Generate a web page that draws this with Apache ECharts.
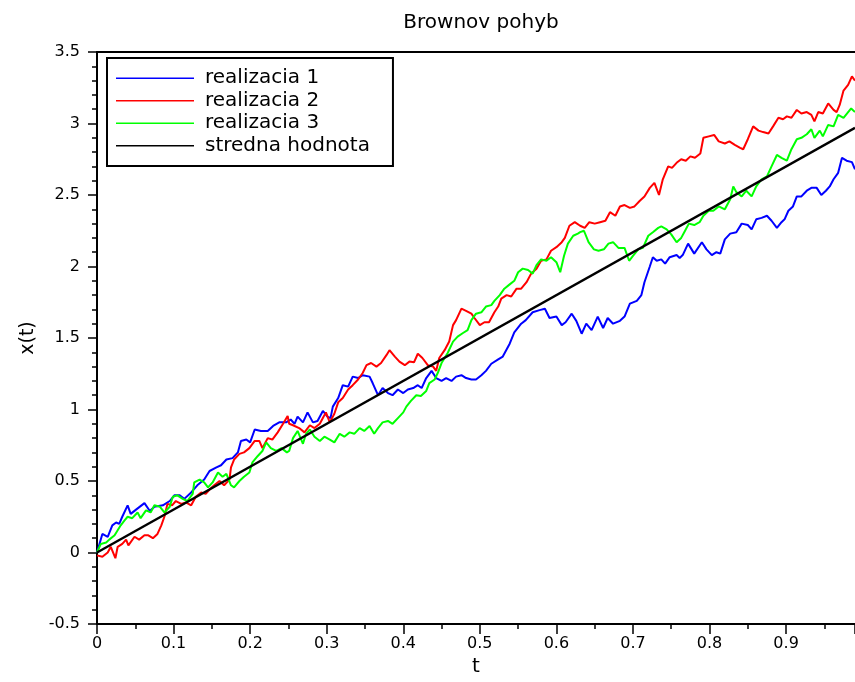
<!DOCTYPE html>
<html>
<head>
<meta charset="utf-8">
<script src="https://cdn.jsdelivr.net/npm/echarts@6/dist/echarts.min.js"></script>
<style>
html,body{margin:0;padding:0;background:#fff;}
#chart{width:855px;height:682px;}
</style>
</head>
<body>
<div id="chart"></div>
<script>
var seriesNames = ['realizacia 1', 'realizacia 2', 'realizacia 3', 'stredna hodnota'];
var titleText = 'Brownov pohyb';
var xName = 't';
var yName = 'x(t)';

var t1 = [0,0.007,0.014,0.02,0.025,0.029,0.033,0.04,0.044,0.051,0.062,0.069,0.075,0.086,0.095,0.101,0.108,0.114,0.123,0.131,0.14,0.147,0.156,0.162,0.169,0.177,0.184,0.188,0.195,0.2,0.206,0.214,0.223,0.23,0.238,0.247,0.253,0.258,0.262,0.269,0.275,0.282,0.288,0.295,0.301,0.305,0.308,0.315,0.321,0.328,0.334,0.341,0.347,0.356,0.36,0.367,0.373,0.38,0.386,0.393,0.4,0.406,0.413,0.419,0.424,0.43,0.437,0.443,0.45,0.456,0.463,0.469,0.476,0.482,0.489,0.495,0.502,0.508,0.515,0.524,0.53,0.539,0.545,0.554,0.56,0.569,0.578,0.585,0.591,0.6,0.607,0.612,0.62,0.626,0.633,0.639,0.646,0.654,0.661,0.667,0.674,0.683,0.689,0.696,0.705,0.711,0.715,0.722,0.726,0.731,0.737,0.742,0.748,0.751,0.757,0.761,0.765,0.772,0.78,0.79,0.796,0.803,0.809,0.814,0.82,0.827,0.835,0.842,0.85,0.855,0.861,0.868,0.875,0.881,0.888,0.894,0.898,0.903,0.909,0.914,0.92,0.927,0.933,0.94,0.946,0.952,0.957,0.962,0.968,0.973,0.979,0.986,0.99];
var x1 = [0,0.13,0.11,0.19,0.21,0.2,0.25,0.33,0.27,0.3,0.345,0.29,0.32,0.33,0.36,0.4,0.4,0.375,0.42,0.47,0.51,0.57,0.595,0.61,0.65,0.66,0.7,0.78,0.79,0.77,0.86,0.85,0.85,0.885,0.91,0.91,0.93,0.9,0.95,0.91,0.98,0.91,0.92,0.99,0.95,0.94,1.02,1.08,1.17,1.16,1.23,1.22,1.24,1.23,1.185,1.1,1.15,1.115,1.1,1.14,1.115,1.14,1.15,1.17,1.15,1.22,1.27,1.22,1.2,1.22,1.2,1.23,1.24,1.22,1.21,1.21,1.24,1.27,1.32,1.35,1.37,1.46,1.54,1.6,1.625,1.68,1.695,1.705,1.64,1.65,1.59,1.61,1.67,1.62,1.53,1.6,1.555,1.65,1.57,1.64,1.6,1.62,1.65,1.74,1.76,1.8,1.89,2.0,2.065,2.04,2.05,2.02,2.065,2.07,2.08,2.06,2.08,2.16,2.09,2.17,2.12,2.08,2.1,2.09,2.19,2.23,2.24,2.3,2.29,2.26,2.33,2.34,2.355,2.32,2.27,2.31,2.33,2.39,2.42,2.49,2.49,2.53,2.55,2.55,2.5,2.53,2.56,2.61,2.655,2.76,2.74,2.73,2.68];

var t2 = [0,0.007,0.014,0.018,0.024,0.027,0.033,0.038,0.041,0.049,0.055,0.062,0.067,0.073,0.079,0.084,0.088,0.092,0.098,0.103,0.11,0.116,0.123,0.129,0.136,0.142,0.147,0.153,0.16,0.166,0.173,0.175,0.179,0.186,0.192,0.199,0.206,0.212,0.216,0.223,0.229,0.236,0.243,0.249,0.251,0.256,0.264,0.271,0.278,0.284,0.291,0.295,0.299,0.304,0.31,0.315,0.321,0.328,0.334,0.341,0.347,0.352,0.358,0.365,0.371,0.378,0.382,0.389,0.395,0.402,0.408,0.414,0.419,0.425,0.432,0.439,0.443,0.447,0.454,0.46,0.465,0.469,0.476,0.482,0.489,0.493,0.5,0.506,0.512,0.519,0.524,0.528,0.535,0.541,0.548,0.554,0.561,0.567,0.574,0.58,0.587,0.593,0.6,0.607,0.611,0.617,0.624,0.631,0.637,0.643,0.65,0.657,0.664,0.67,0.677,0.683,0.689,0.696,0.702,0.709,0.715,0.722,0.728,0.734,0.739,0.746,0.751,0.757,0.763,0.769,0.775,0.781,0.788,0.792,0.799,0.806,0.812,0.82,0.826,0.833,0.84,0.844,0.85,0.857,0.864,0.87,0.877,0.883,0.89,0.896,0.901,0.907,0.914,0.92,0.927,0.933,0.937,0.942,0.948,0.955,0.962,0.966,0.97,0.975,0.981,0.986,0.99];
var x2 = [-0.02,-0.03,0.0,0.04,-0.04,0.04,0.06,0.09,0.05,0.11,0.09,0.12,0.12,0.1,0.13,0.19,0.25,0.34,0.33,0.36,0.34,0.35,0.33,0.39,0.42,0.41,0.44,0.47,0.5,0.47,0.51,0.595,0.65,0.69,0.7,0.73,0.78,0.78,0.73,0.8,0.79,0.84,0.9,0.955,0.9,0.89,0.87,0.84,0.89,0.87,0.9,0.94,0.98,0.91,0.97,1.05,1.08,1.14,1.17,1.21,1.255,1.31,1.325,1.3,1.325,1.38,1.415,1.37,1.335,1.31,1.335,1.33,1.39,1.36,1.31,1.3,1.27,1.36,1.415,1.475,1.59,1.625,1.705,1.69,1.67,1.64,1.59,1.61,1.61,1.68,1.72,1.775,1.8,1.79,1.845,1.845,1.89,1.95,1.985,2.04,2.05,2.11,2.135,2.17,2.2,2.285,2.31,2.285,2.27,2.31,2.3,2.31,2.32,2.38,2.355,2.42,2.43,2.41,2.42,2.46,2.49,2.55,2.585,2.5,2.61,2.7,2.69,2.725,2.75,2.74,2.77,2.76,2.79,2.9,2.91,2.92,2.875,2.86,2.875,2.85,2.83,2.82,2.89,2.98,2.95,2.94,2.93,2.98,3.04,3.03,3.05,3.04,3.095,3.07,3.08,3.06,3.015,3.08,3.07,3.14,3.095,3.08,3.13,3.23,3.27,3.33,3.3];

var t3 = [0,0.005,0.012,0.016,0.023,0.027,0.031,0.036,0.04,0.046,0.053,0.057,0.064,0.07,0.075,0.082,0.088,0.095,0.099,0.105,0.112,0.118,0.125,0.127,0.134,0.14,0.145,0.151,0.158,0.164,0.169,0.175,0.179,0.186,0.192,0.199,0.203,0.21,0.216,0.221,0.227,0.234,0.241,0.248,0.251,0.256,0.262,0.269,0.273,0.278,0.284,0.291,0.297,0.304,0.31,0.317,0.323,0.33,0.336,0.343,0.349,0.356,0.362,0.367,0.373,0.38,0.386,0.393,0.4,0.404,0.41,0.417,0.423,0.43,0.434,0.441,0.445,0.45,0.454,0.458,0.465,0.471,0.478,0.484,0.489,0.495,0.502,0.508,0.515,0.519,0.526,0.532,0.539,0.545,0.55,0.556,0.563,0.569,0.574,0.58,0.587,0.593,0.6,0.605,0.61,0.615,0.622,0.628,0.631,0.636,0.642,0.649,0.655,0.662,0.668,0.674,0.681,0.689,0.695,0.7,0.707,0.713,0.72,0.726,0.733,0.737,0.744,0.75,0.757,0.763,0.767,0.773,0.78,0.787,0.792,0.799,0.805,0.812,0.82,0.827,0.831,0.835,0.842,0.848,0.855,0.861,0.868,0.875,0.881,0.888,0.894,0.901,0.907,0.914,0.92,0.927,0.933,0.937,0.944,0.948,0.955,0.962,0.968,0.975,0.985,0.99];
var x3 = [0,0.06,0.07,0.09,0.12,0.155,0.19,0.225,0.25,0.24,0.28,0.24,0.295,0.28,0.33,0.32,0.28,0.32,0.39,0.4,0.375,0.36,0.41,0.49,0.51,0.49,0.455,0.49,0.56,0.53,0.55,0.47,0.455,0.5,0.53,0.56,0.63,0.675,0.71,0.77,0.73,0.71,0.73,0.7,0.71,0.8,0.85,0.76,0.83,0.86,0.81,0.78,0.81,0.79,0.77,0.83,0.81,0.84,0.83,0.87,0.85,0.885,0.83,0.87,0.91,0.92,0.9,0.94,0.98,1.02,1.06,1.1,1.095,1.13,1.185,1.21,1.255,1.325,1.36,1.395,1.475,1.51,1.535,1.555,1.625,1.67,1.68,1.72,1.73,1.76,1.8,1.845,1.875,1.9,1.96,1.985,1.975,1.95,2.01,2.05,2.04,2.065,2.03,1.96,2.075,2.16,2.215,2.23,2.24,2.25,2.17,2.12,2.11,2.12,2.16,2.17,2.13,2.13,2.04,2.075,2.12,2.13,2.215,2.24,2.27,2.28,2.26,2.225,2.17,2.2,2.24,2.3,2.29,2.31,2.355,2.39,2.39,2.42,2.4,2.47,2.56,2.52,2.49,2.53,2.49,2.56,2.61,2.63,2.7,2.78,2.76,2.74,2.82,2.89,2.9,2.925,2.96,2.9,2.95,2.91,2.99,2.98,3.06,3.04,3.105,3.08];

var tMean = [0, 0.99];
var xMean = [0, 2.97];

var xTicks = { min: 0, max: 0.99, interval: 0.1 };
var yTicks = { min: -0.5, max: 3.5, interval: 0.5 };

function pairs(t, v) { return t.map(function (tt, i) { return [tt, v[i]]; }); }

var FONT = 'DejaVu Sans';
var chart = echarts.init(document.getElementById('chart'), null, { renderer: 'canvas' });

function lineSeries(name, data, color, width) {
  return {
    name: name, type: 'line', data: data, showSymbol: false, symbol: 'none',
    lineStyle: { color: color, width: width }, itemStyle: { color: color },
    animation: false, z: 2
  };
}

chart.setOption({
  animation: false,
  backgroundColor: '#ffffff',
  title: {
    text: titleText, left: 476, top: 8, textAlign: 'center',
    textStyle: { fontFamily: FONT, fontSize: 20, fontWeight: 'normal', color: '#000' }
  },
  legend: {
    left: 107, top: 58, orient: 'vertical',
    data: seriesNames,
    icon: 'rect',
    itemWidth: 78, itemHeight: 1.6, itemGap: 0,
    padding: [9, 23, 9, 9],
    borderColor: '#000', borderWidth: 2, backgroundColor: '#fff',
    textStyle: { fontFamily: FONT, fontSize: 20, color: '#000', lineHeight: 22.5, padding: [0, 0, 0, 6] }
  },
  grid: { left: 97, top: 52, right: 0, bottom: 54, containLabel: false },
  xAxis: [{
    type: 'value', min: xTicks.min, max: xTicks.max, interval: xTicks.interval,
    name: xName, nameLocation: 'middle', nameGap: 33,
    nameTextStyle: { fontFamily: FONT, fontSize: 20, color: '#000' },
    axisLine: { show: true, onZero: false, lineStyle: { color: '#000', width: 2 } },
    axisTick: { show: true, inside: false, length: 10, lineStyle: { color: '#000', width: 1.5 } },
    minorTick: { show: true, splitNumber: 2, length: 5, lineStyle: { color: '#000', width: 1.5 } },
    axisLabel: { show: true, margin: 12, showMaxLabel: false, fontFamily: FONT, fontSize: 16, color: '#000' },
    splitLine: { show: false }
  }, {
    type: 'value', position: 'top', min: xTicks.min, max: xTicks.max, interval: xTicks.interval,
    axisLine: { show: true, onZero: false, lineStyle: { color: '#000', width: 2 } },
    axisTick: { show: false }, axisLabel: { show: false }, splitLine: { show: false }
  }],
  yAxis: {
    type: 'value', min: yTicks.min, max: yTicks.max, interval: yTicks.interval,
    name: yName, nameLocation: 'middle', nameGap: 51, nameRotate: 90,
    nameTextStyle: { fontFamily: FONT, fontSize: 19, color: '#000' },
    axisLine: { show: true, onZero: false, lineStyle: { color: '#000', width: 2 } },
    axisTick: { show: true, inside: false, length: 9, lineStyle: { color: '#000', width: 1.5 } },
    minorTick: { show: true, splitNumber: 5, length: 5, lineStyle: { color: '#000', width: 1.5 } },
    axisLabel: { show: true, margin: 17, fontFamily: FONT, fontSize: 16, color: '#000' },
    splitLine: { show: false }
  },
  series: [
    lineSeries(seriesNames[0], pairs(t1, x1), '#0000ff', 2),
    lineSeries(seriesNames[1], pairs(t2, x2), '#ff0000', 2),
    lineSeries(seriesNames[2], pairs(t3, x3), '#00ff00', 2),
    lineSeries(seriesNames[3], pairs(tMean, xMean), '#000000', 2.4)
  ]
});
</script>
</body>
</html>
